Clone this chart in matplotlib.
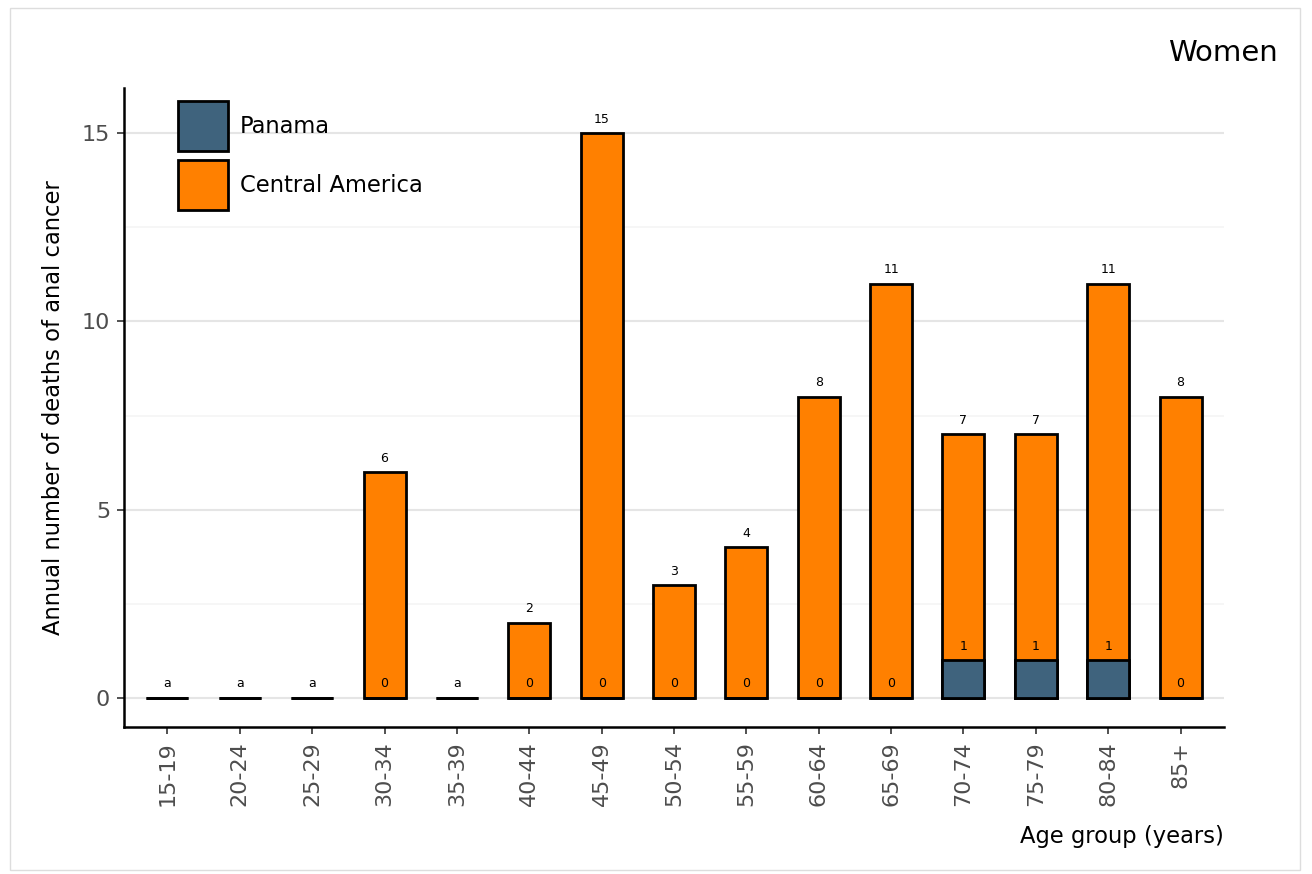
import matplotlib
matplotlib.use("Agg")
import matplotlib.pyplot as plt
from matplotlib.patches import Rectangle, Patch
import numpy as np

age_groups = ["15-19", "20-24", "25-29", "30-34", "35-39", "40-44", "45-49",
              "50-54", "55-59", "60-64", "65-69", "70-74", "75-79", "80-84", "85+"]
central_america = [0, 0, 0, 6, 0, 2, 15, 3, 4, 8, 11, 7, 7, 11, 8]
panama = [0, 0, 0, 0, 0, 0, 0, 0, 0, 0, 0, 1, 1, 1, 0]

c_pan = "#3f637d"
c_ca = "#ff8000"

fig = plt.figure(figsize=(13.12, 8.74), dpi=100)
fig.patches.append(Rectangle((10/1312, 4/874), 1290/1312, 862/874, transform=fig.transFigure,
                             fill=False, edgecolor="#dddddd", linewidth=1))
ax = fig.add_axes([124/1312, 1 - 727/874, 1100/1312, (727 - 88)/874])

x = np.arange(len(age_groups))
w = 0.58
ax.bar(x, central_america, width=w, color=c_ca, edgecolor="black", linewidth=2, zorder=3)
ax.bar(x, panama, width=w, color=c_pan, edgecolor="black", linewidth=2, zorder=4)

for i in range(len(age_groups)):
    tot = central_america[i]
    if tot == 0:
        ax.text(x[i], 0.2, "a", ha="center", va="bottom", fontsize=9, color="black", zorder=5)
    else:
        ax.text(x[i], tot + 0.2, str(tot), ha="center", va="bottom", fontsize=9, zorder=5)
        ax.text(x[i], panama[i] + 0.2, str(panama[i]), ha="center", va="bottom", fontsize=9, zorder=5)

ax.set_xlim(-0.6, len(age_groups) - 1 + 0.6)
ax.set_ylim(-0.77, 16.2)
ax.set_xticks(x)
ax.set_xticklabels(age_groups, rotation=90, fontsize=16, color="#4d4d4d")
ax.set_yticks([0, 5, 10, 15])
ax.set_yticklabels(["0", "5", "10", "15"], fontsize=16, color="#4d4d4d")
ax.set_yticks([2.5, 7.5, 12.5], minor=True)
ax.tick_params(axis="y", which="minor", length=0)
ax.tick_params(axis="both", which="major", length=5, width=1.2, color="#333333", pad=5)
ax.grid(axis="y", which="major", color="#e5e5e5", linewidth=1.5, zorder=0)
ax.grid(axis="y", which="minor", color="#f5f5f5", linewidth=1.2, zorder=0)
ax.set_axisbelow(True)
for s in ["top", "right"]:
    ax.spines[s].set_visible(False)
for s in ["left", "bottom"]:
    ax.spines[s].set_linewidth(1.8)

ax.set_ylabel("Annual number of deaths of anal cancer", fontsize=16.3)
ax.yaxis.set_label_coords(-0.0536, 0.5)
ax.set_xlabel("Age group (years)", fontsize=16.3, loc="right")
ax.xaxis.set_label_coords(1.0, -0.153)
ax.xaxis.label.set_va("top")

handles = [Patch(facecolor=c_pan, edgecolor="black", linewidth=2, label="Panama"),
           Patch(facecolor=c_ca, edgecolor="black", linewidth=2, label="Central America")]
ax.legend(handles=handles, loc="upper left", bbox_to_anchor=(0.041, 0.994), frameon=False,
          fontsize=16.3, handlelength=2.2, handleheight=3.03, labelspacing=0.4, handletextpad=0.53,
          borderaxespad=0)

fig.text(1278/1312, 1 - 53/874, "Women", ha="right", va="center", fontsize=21)

fig.savefig("out.png", dpi=100)
